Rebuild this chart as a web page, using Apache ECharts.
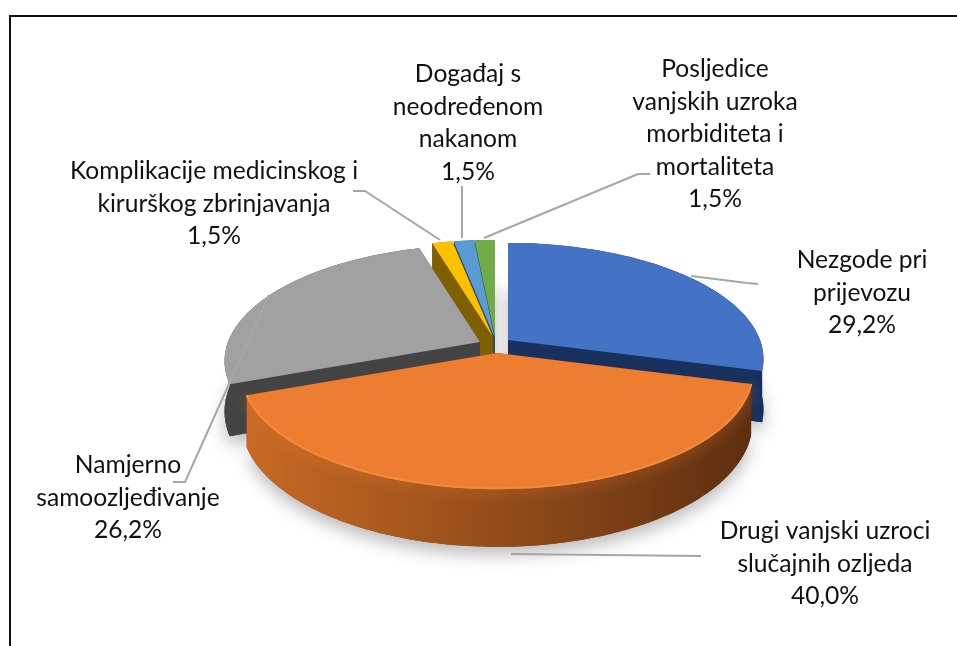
<!DOCTYPE html>
<html><head><meta charset="utf-8">
<style>html,body{margin:0;padding:0;background:#fff}#c{width:957px;height:646px}</style>
<script src="https://cdn.jsdelivr.net/npm/echarts@6/dist/echarts.min.js"></script>
</head><body><div id="c"></div>
<script>
const categories = ['Nezgode pri\nprijevozu','Drugi vanjski uzroci\nslučajnih ozljeda','Namjerno\nsamoozljeđivanje','Komplikacije medicinskog i\nkirurškog zbrinjavanja','Događaj s\nneodređenom\nnakanom','Posljedice\nvanjskih uzroka\nmorbiditeta i\nmortaliteta'];
const values = [29.2, 40.0, 26.2, 1.5, 1.5, 1.5];

// layout (not data)
const A = 252, B = 113, K = 0.164, DEPTH = 49;
const apex = [[508,340],[497,353],[480,342],[493,337],[494.5,337],[495,337]];
const drawOrder = [5,4,3,2,0,1];
const topColors = ['#4472C4','#ED7D31','#A1A1A1','#FFC000','#5B9BD5','#70AD47'];
const faceColors = ['#17305E','#7A3F14','#434343','#7F6000','#2C4E6C','#38572A'];
const wallColors = [['#274A8A','#14305F'],['#C86A24','#5E2F10'],['#454545','#454545'],['#7F6000','#7F6000'],['#2C4E6C','#2C4E6C'],['#38572A','#38572A']];
const labelPos = [[862,293],[825,564],[128,498],[214,204],[468,123],[715,134.5]];
const leaders = [
  [[691,276],[747,283],[758,284]],
  [[511,554],[701,556]],
  [[173,482],[185,482],[269,295]],
  [[353,191],[365,191],[440,240]],
  [[462,186],[462,238]],
  [[650,174],[638,174],[484,238]]
];

const total = values.reduce((a,b)=>a+b,0);
const starts = []; values.reduce((acc,v,i)=>{starts[i]=acc;return acc+v/total*360;},0);
const rad = d => d*Math.PI/180;
function proj(i,thetaDeg,r,down){
  const u = r*Math.sin(rad(thetaDeg)), v = -r*Math.cos(rad(thetaDeg));
  const s = 1/(1-K*v);
  return [apex[i][0]+A*u*s, apex[i][1]+B*v*s+(down?DEPTH*s:0)];
}
function arc(i,a0,a1,down){
  const n = Math.max(4,Math.ceil(Math.abs(a1-a0)/1.5)), pts=[];
  for(let k=0;k<=n;k++) pts.push(proj(i,a0+(a1-a0)*k/n,1,down));
  return pts;
}
function renderSlice(params,api){
  const i = api.value(0), val = api.value(1);
  const a0 = starts[i], a1 = a0+val/total*360;
  const O=[apex[i][0],apex[i][1]], Od=proj(i,0,0,true);
  const top=[O].concat(arc(i,a0,a1,false));
  const ch=[];
  const shadow={shadowBlur:16,shadowColor:'rgba(0,0,0,0.26)',shadowOffsetY:8};
  ch.push({type:'polygon',shape:{points:[Od].concat(arc(i,a0,a1,true))},style:Object.assign({fill:faceColors[i]},shadow)});
  [a0,a1].forEach(t=>{
    const p=proj(i,t,1,false),q=proj(i,t,1,true);
    ch.push({type:'polygon',shape:{points:[O,p,q,Od]},style:{fill:faceColors[i]}});
  });
  const up=arc(i,a0,a1,false),dn=arc(i,a0,a1,true);
  ch.push({type:'polygon',shape:{points:up.concat(dn.slice().reverse())},
    style:{fill:new echarts.graphic.LinearGradient(0,0,1,0,[{offset:0,color:wallColors[i][0]},{offset:1,color:wallColors[i][1]}])}});
  if(i===1) ch.push({type:'polyline',shape:{points:up},style:{fill:null,stroke:'#EE8033',lineWidth:2,shadowBlur:12,shadowColor:'rgba(240,130,50,1)',shadowOffsetY:3}});
  ch.push({type:'polygon',shape:{points:top},style:{fill:topColors[i]}});
  if(i===1) ch.push({type:'polyline',shape:{points:up},style:{fill:null,stroke:'#F28A3E',lineWidth:2}});
  return {type:'group',children:ch};
}
function renderLabel(params,api){
  const i=api.value(0), val=api.value(1);
  return {type:'text',style:{x:labelPos[i][0],y:labelPos[i][1],
    text:categories[i]+'\n'+val.toFixed(1).replace('.',',')+'%',
    fill:'#111',font:'24.6px Lato, sans-serif',align:'center',verticalAlign:'middle',lineHeight:32.5}};
}
function renderLeader(params,api){
  const i=api.value(0);
  return {type:'polyline',shape:{points:leaders[i]},style:{fill:null,stroke:'#A6A6A6',lineWidth:2}};
}
const rows=drawOrder.map(i=>[i,values[i]]);
const chart=echarts.init(document.getElementById('c'),null,{renderer:'canvas'});
chart.setOption({
  animation:false,backgroundColor:'#fff',
  graphic:[{type:'polyline',shape:{points:[[10,646],[10,16],[957,16]]},style:{fill:null,stroke:'#111',lineWidth:2},silent:true}],
  series:[
    {type:'custom',coordinateSystem:'none',renderItem:renderSlice,data:rows,z:2,silent:true},
    {type:'custom',coordinateSystem:'none',renderItem:renderLeader,data:rows,z:3,silent:true},
    {type:'custom',coordinateSystem:'none',renderItem:renderLabel,data:rows,z:4,silent:true}
  ]
});
</script></body></html>
